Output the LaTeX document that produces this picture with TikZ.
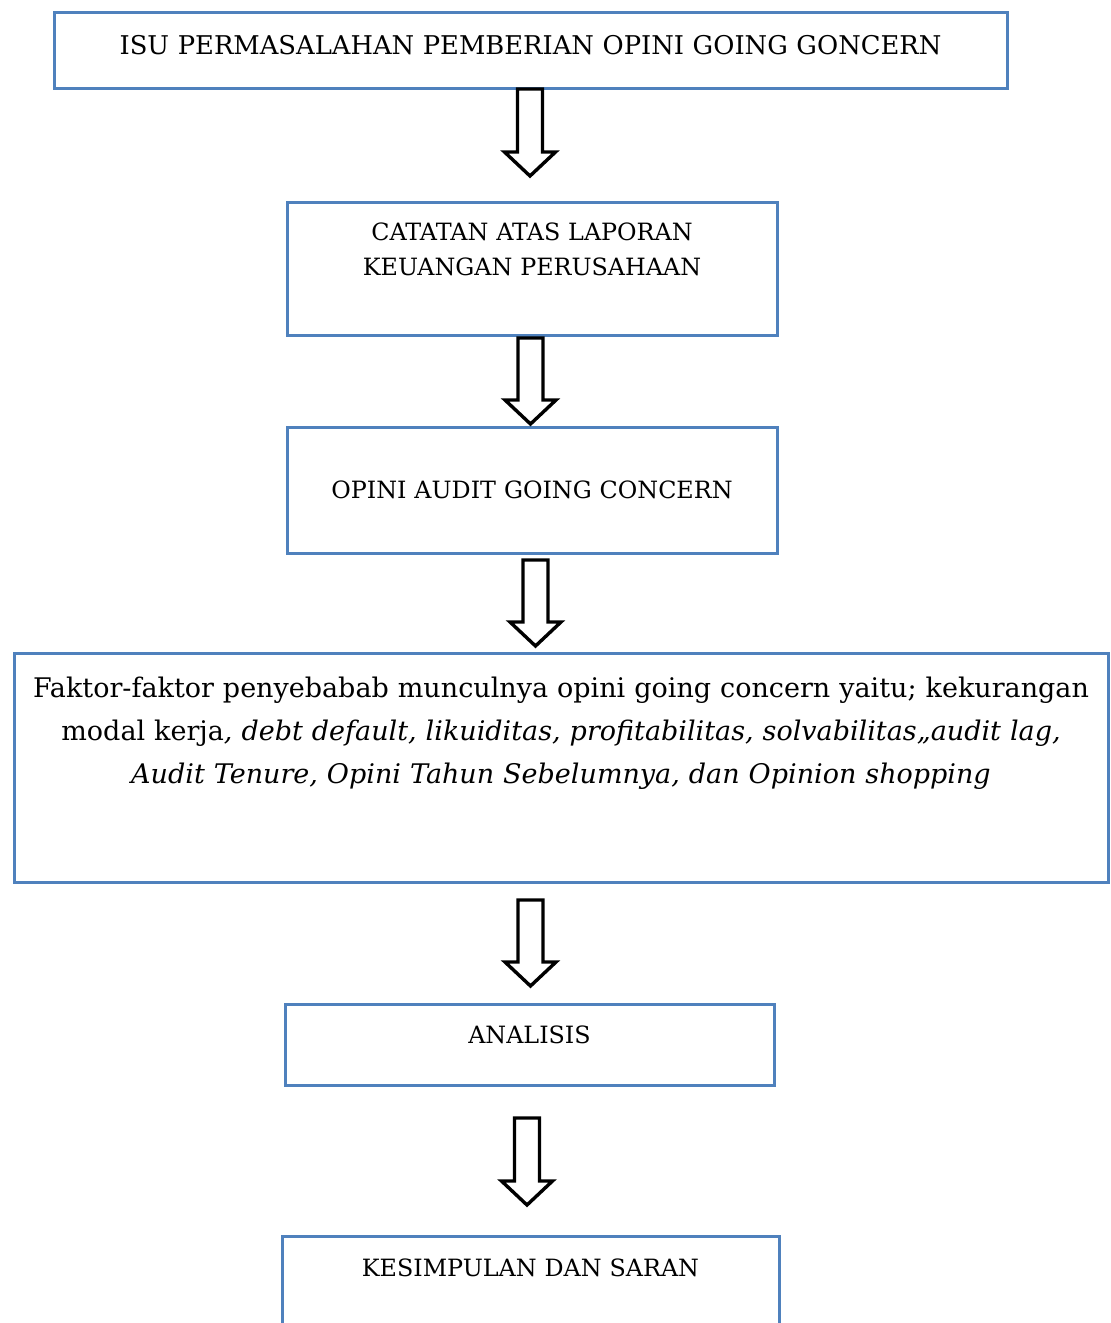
\documentclass[tikz,border=0pt]{standalone}
\usepackage{fontspec}
\setmainfont{DejaVu Serif}
\usepackage{tikz}
\usetikzlibrary{calc}
\usetikzlibrary{positioning}

\definecolor{boxblue}{RGB}{79,129,189}

\begin{document}
\begin{tikzpicture}[x=0.5pt,y=-0.5pt,
      box/.style={draw=boxblue,line width=1.5pt,inner sep=0pt,align=center,
        text height=8.7pt,font=\fontsize{11.9}{17.5}\selectfont},
      barrow/.style={draw=black,line width=1.7pt,fill=white,line join=miter},
    ]
    \clip (0,0) rectangle (1111,1323);

    \node[box,text width=476.5pt,minimum height=38pt,text height=9.4pt,text depth=5pt,
          font=\fontsize{12.9}{17.5}\selectfont] (isu) at (530.5,50)
        {ISU PERMASALAHAN PEMBERIAN OPINI GOING GONCERN};
    \node[box,text width=245pt,minimum height=66.5pt,text depth=36.5pt] (catatan) at (532,268.5)
        {CATATAN ATAS LAPORAN\\KEUANGAN PERUSAHAAN};
    \node[box,text width=245pt,minimum height=63pt,text depth=0pt] (opini) at (532,490)
        {OPINI AUDIT GOING CONCERN};
    \node[box,text width=547pt,minimum height=114.5pt,text height=9.8pt,text depth=79.5pt,
          font=\fontsize{13.5}{21.5}\selectfont] (faktor) at (561,767.5)
        {Faktor-faktor penyebabab munculnya opini going concern yaitu; kekurangan\\
         modal kerja\textit{, debt default, likuiditas, profitabilitas, solvabilitas,,audit lag,}\\
         \textit{Audit Tenure, Opini Tahun Sebelumnya, dan Opinion shopping}};
    \node[box,text width=244.5pt,minimum height=40.5pt,text depth=9.5pt] (analisis) at (529.5,1044.5)
        {ANALISIS};
    \node[box,text width=248.5pt,minimum height=70pt,text depth=38pt] (kesimpulan) at (530.5,1306)
        {KESIMPULAN DAN SARAN};

    % block arrows between the boxes
    \coordinate (t1) at (530,89);    \coordinate (h1) at (530,176);
    \coordinate (t2) at (530.5,338); \coordinate (h2) at (530.5,424);
    \coordinate (t3) at (535.5,560); \coordinate (h3) at (535.5,646);
    \coordinate (t4) at (530.5,900); \coordinate (h4) at (530.5,986);
    \coordinate (t5) at (527,1118);  \coordinate (h5) at (527,1205);
    \foreach \i in {1,...,5}
        \draw[barrow] ($(t\i)+(-6.25pt,0pt)$) -- ($(h\i)+(-6.25pt,12pt)$)
            -- ($(h\i)+(-12.75pt,12pt)$) -- (h\i) -- ($(h\i)+(12.75pt,12pt)$)
            -- ($(h\i)+(6.25pt,12pt)$) -- ($(t\i)+(6.25pt,0pt)$) -- cycle;
\end{tikzpicture}
\end{document}
